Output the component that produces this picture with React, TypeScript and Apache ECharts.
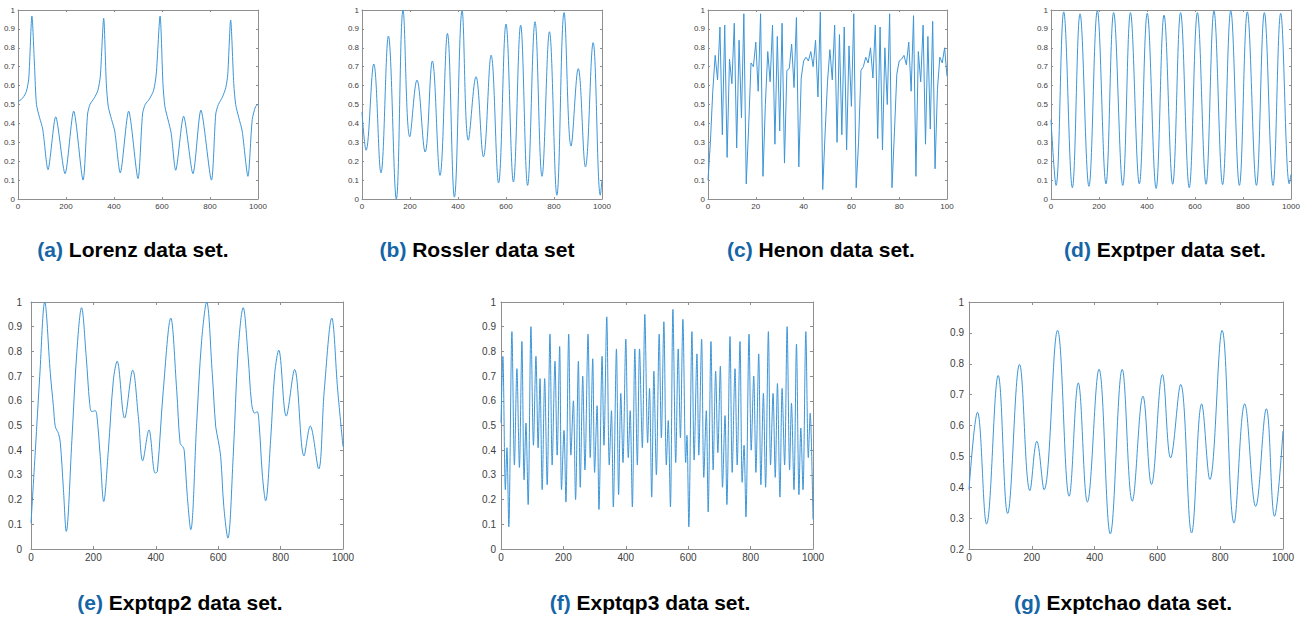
import React, { useEffect, useRef } from 'react';
import * as echarts from 'echarts';

// ---------- data (x = sample index, y = normalised value) ----------
const lorenzData: number[][] = [
  [0, 0.514], [20, 0.535], [35, 0.57], [45, 0.64], [58, 0.968], [69, 0.7], [77, 0.5], [90, 0.43], [103, 0.37],
  [125, 0.155], [157, 0.435], [196, 0.134], [232, 0.465], [271, 0.1], [290, 0.45], [300, 0.5], [318, 0.535],
  [333, 0.575], [343, 0.65], [357, 0.956], [368, 0.61], [376, 0.49], [390, 0.42], [403, 0.36], [426, 0.138],
  [461, 0.465], [500, 0.108], [519, 0.45], [530, 0.5], [548, 0.53], [565, 0.575], [576, 0.66], [592, 0.968],
  [604, 0.61], [612, 0.49], [625, 0.42], [638, 0.35], [657, 0.152], [690, 0.438], [729, 0.134], [762, 0.47],
  [806, 0.1], [824, 0.45], [835, 0.5], [852, 0.54], [866, 0.59], [874, 0.66], [886, 0.947], [899, 0.61],
  [907, 0.5], [920, 0.43], [934, 0.36], [958, 0.12], [976, 0.42], [990, 0.49], [1000, 0.5],
];

const rosslerData: number[][] = [
  [0, 0.46], [17, 0.258], [49, 0.714], [79, 0.138], [110, 0.862], [143, 0.0], [171, 1.0], [199, 0.329],
  [229, 0.629], [263, 0.249], [293, 0.73], [325, 0.125], [356, 0.876], [385, 0.01], [417, 0.996], [443, 0.311],
  [475, 0.647], [506, 0.223], [538, 0.761], [569, 0.085], [600, 0.926], [631, 0.09], [661, 0.92], [690, 0.072],
  [721, 0.938], [750, 0.12], [781, 0.885], [812, 0.02], [842, 0.986], [871, 0.28], [901, 0.69], [931, 0.17],
  [963, 0.827], [993, 0.02], [1000, 0.1],
];

const henonValues: number[] = [
  0.1, 0.3, 0.57, 0.76, 0.63, 0.91, 0.34, 0.92, 0.22, 0.74,
  0.61, 0.93, 0.27, 0.84, 0.43, 0.98, 0.08, 0.38, 0.72, 0.7,
  0.83, 0.57, 0.98, 0.12, 0.5, 0.78, 0.62, 0.92, 0.29, 0.86,
  0.36, 0.93, 0.19, 0.68, 0.69, 0.82, 0.59, 0.96, 0.17, 0.64,
  0.73, 0.75, 0.73, 0.78, 0.7, 0.84, 0.54, 0.99, 0.05, 0.35,
  0.62, 0.79, 0.63, 0.92, 0.3, 0.87, 0.34, 0.91, 0.26, 0.81,
  0.49, 0.98, 0.06, 0.3, 0.68, 0.7, 0.75, 0.72, 0.8, 0.64,
  0.92, 0.32, 0.91, 0.26, 0.8, 0.5, 0.98, 0.06, 0.35, 0.66,
  0.73, 0.74, 0.76, 0.71, 0.83, 0.57, 0.97, 0.12, 0.78, 0.62,
  0.92, 0.29, 0.86, 0.37, 0.94, 0.16, 0.58, 0.75, 0.72, 0.8,
  0.65,
];

const exptperData: number[][] = [
  [0, 0.42], [21, 0.072], [53, 0.99], [89, 0.06], [121, 0.98], [158, 0.067], [193, 0.996], [229, 0.08],
  [261, 0.986], [299, 0.072], [331, 0.986], [368, 0.08], [401, 0.982], [438, 0.056], [471, 0.973], [507, 0.078],
  [540, 0.986], [576, 0.06], [610, 0.986], [646, 0.078], [679, 0.995], [715, 0.076], [749, 0.996], [785, 0.072],
  [818, 0.99], [856, 0.072], [889, 0.986], [925, 0.072], [957, 0.982], [993, 0.08], [1000, 0.13],
];

const exptqp2Data: number[][] = [
  [0, 0.105], [14, 0.4], [28, 0.7], [44, 1.0], [62, 0.71], [72, 0.576], [78, 0.495], [88, 0.468], [94, 0.43],
  [104, 0.24], [113, 0.071], [131, 0.44], [147, 0.8], [162, 0.977], [177, 0.778], [188, 0.59], [195, 0.556],
  [206, 0.56], [211, 0.542], [222, 0.374], [233, 0.192], [248, 0.4], [264, 0.684], [276, 0.76], [300, 0.53],
  [326, 0.724], [344, 0.536], [358, 0.357], [378, 0.482], [398, 0.307], [405, 0.314], [424, 0.643], [448, 0.935],
  [467, 0.643], [478, 0.428], [486, 0.415], [491, 0.4], [501, 0.213], [512, 0.078], [531, 0.509], [547, 0.845],
  [563, 1.0], [581, 0.71], [592, 0.495], [600, 0.44], [608, 0.374], [618, 0.172], [631, 0.044], [648, 0.374],
  [664, 0.805], [680, 0.977], [696, 0.778], [707, 0.59], [717, 0.55], [725, 0.556], [731, 0.509], [742, 0.293],
  [752, 0.195], [768, 0.44], [781, 0.71], [794, 0.805], [818, 0.538], [845, 0.727], [875, 0.377], [895, 0.498],
  [922, 0.324], [940, 0.643], [964, 0.935], [983, 0.643], [1000, 0.415],
];

const exptqp3Data: number[][] = [
  [0, 0.51], [6, 0.78], [14, 0.24], [19, 0.41], [25, 0.09], [35, 0.88], [43, 0.34], [51, 0.73], [59, 0.33],
  [67, 0.84], [74, 0.28], [80, 0.51], [87, 0.18], [96, 0.9], [104, 0.42], [112, 0.78], [119, 0.41], [125, 0.69],
  [132, 0.24], [140, 0.69], [148, 0.26], [157, 0.87], [164, 0.34], [173, 0.76], [180, 0.38], [188, 0.82],
  [194, 0.24], [202, 0.48], [208, 0.19], [217, 0.87], [224, 0.38], [232, 0.6], [239, 0.2], [248, 0.76],
  [254, 0.25], [262, 0.7], [269, 0.32], [279, 0.87], [286, 0.37], [294, 0.77], [300, 0.31], [308, 0.58],
  [314, 0.16], [324, 0.78], [330, 0.42], [339, 0.94], [347, 0.34], [354, 0.56], [360, 0.17], [370, 0.81],
  [377, 0.22], [384, 0.63], [391, 0.35], [400, 0.85], [408, 0.37], [414, 0.56], [421, 0.17], [429, 0.81],
  [437, 0.34], [444, 0.81], [453, 0.41], [461, 0.95], [470, 0.43], [476, 0.65], [483, 0.21], [490, 0.72],
  [498, 0.3], [507, 0.87], [514, 0.45], [522, 0.92], [530, 0.34], [536, 0.52], [543, 0.17], [551, 0.97],
  [560, 0.35], [568, 0.81], [575, 0.45], [583, 0.93], [592, 0.35], [596, 0.46], [602, 0.09], [612, 0.88],
  [619, 0.36], [628, 0.79], [634, 0.38], [643, 0.85], [650, 0.29], [658, 0.56], [664, 0.15], [673, 0.84],
  [680, 0.32], [688, 0.72], [695, 0.39], [703, 0.74], [710, 0.25], [718, 0.54], [724, 0.18], [734, 0.86],
  [741, 0.31], [750, 0.73], [757, 0.34], [766, 0.84], [773, 0.27], [779, 0.42], [785, 0.13], [795, 0.87],
  [802, 0.4], [810, 0.7], [817, 0.31], [826, 0.79], [833, 0.26], [841, 0.63], [848, 0.25], [857, 0.88],
  [864, 0.34], [872, 0.63], [879, 0.29], [886, 0.67], [894, 0.21], [901, 0.65], [909, 0.34], [917, 0.9],
  [925, 0.32], [931, 0.59], [939, 0.24], [947, 0.83], [955, 0.22], [961, 0.49], [968, 0.24], [977, 0.88],
  [985, 0.37], [991, 0.55], [1000, 0.12],
];

const exptchaoData: number[][] = [
  [0, 0.392], [27, 0.643], [56, 0.281], [93, 0.762], [123, 0.315], [161, 0.798], [194, 0.389], [216, 0.549],
  [239, 0.392], [282, 0.908], [319, 0.371], [348, 0.738], [377, 0.352], [414, 0.782], [450, 0.249], [488, 0.782],
  [520, 0.355], [554, 0.695], [581, 0.409], [616, 0.765], [642, 0.495], [674, 0.733], [709, 0.252], [741, 0.67],
  [767, 0.425], [806, 0.908], [844, 0.284], [878, 0.67], [913, 0.338], [947, 0.654], [973, 0.306], [1000, 0.582],
];

const panelTags = ['(a)', '(b)', '(c)', '(d)', '(e)', '(f)', '(g)'];
const panelTitles = [
  'Lorenz data set.', 'Rossler data set', 'Henon data set.', 'Exptper data set.',
  'Exptqp2 data set.', 'Exptqp3 data set.', 'Exptchao data set.',
];
const xMaxes = [1000, 1000, 100, 1000, 1000, 1000, 1000];
const xSteps = [200, 200, 20, 200, 200, 200, 200];
const yMins = [0, 0, 0, 0, 0, 0, 0.2];

// ---------- layout / style ----------
const LINE = '#3d95d7';
const BOX = '#8f8f8f';
const LABEL = '#404040';
const TAG = '#1565a7';
const FONT = 'Liberation Sans, Arial, sans-serif';

const layouts = [
  { left: 18, top: 10, width: 240, height: 189, fs: 8, tick: 2, ym: 3, cx: 133, cy: 249 },
  { left: 362, top: 10, width: 240, height: 189, fs: 8, tick: 2, ym: 3, cx: 477, cy: 249 },
  { left: 708, top: 10, width: 239, height: 189, fs: 8, tick: 2, ym: 3, cx: 821, cy: 249 },
  { left: 1051, top: 10, width: 240, height: 189, fs: 8, tick: 2, ym: 3, cx: 1165, cy: 249 },
  { left: 31, top: 302, width: 312, height: 247, fs: 10, tick: 3, ym: 9, cx: 180, cy: 602 },
  { left: 501, top: 302, width: 312, height: 247, fs: 10, tick: 3, ym: 5, cx: 650, cy: 602 },
  { left: 969, top: 302, width: 314, height: 247, fs: 10, tick: 3, ym: 5, cx: 1123, cy: 602 },
];

function buildOption() {
  const henonData = henonValues.map((v, i) => [i, v]);
  const datasets = [lorenzData, rosslerData, henonData, exptperData, exptqp2Data, exptqp3Data, exptchaoData];
  const smooths: (number | boolean)[] = [0.25, 0.4, false, 0.4, 0.35, 0.3, 0.4];
  const grids: any[] = [];
  const xAxis: any[] = [];
  const yAxis: any[] = [];
  const series: any[] = [];
  const graphic: any[] = [];
  layouts.forEach((L, i) => {
    grids.push({ left: L.left, top: L.top, width: L.width, height: L.height, show: false });
    const axisLine = { show: true, onZero: false, lineStyle: { color: BOX, width: 1 } };
    const axisTick = { show: true, inside: true, length: L.tick, lineStyle: { color: BOX, width: 1 } };
    const label = { fontSize: L.fs, color: LABEL, fontFamily: FONT };
    const xBase = { gridIndex: i, type: 'value', min: 0, max: xMaxes[i], interval: xSteps[i], splitLine: { show: false }, axisLine, axisTick };
    const yBase = { gridIndex: i, type: 'value', min: yMins[i], max: 1, interval: 0.1, splitLine: { show: false }, axisLine, axisTick };
    xAxis.push({ ...xBase, position: 'bottom', axisLabel: { ...label, margin: 3, formatter: (v: number) => String(v) } });
    xAxis.push({ ...xBase, position: 'top', axisLabel: { show: false } });
    yAxis.push({
      ...yBase, position: 'left',
      axisLabel: { ...label, margin: L.ym, formatter: (v: number) => String(Math.round(v * 10) / 10) },
    });
    yAxis.push({ ...yBase, position: 'right', axisLabel: { show: false } });
    series.push({
      type: 'line', xAxisIndex: 2 * i, yAxisIndex: 2 * i, data: datasets[i], showSymbol: false,
      smooth: smooths[i], silent: true, lineStyle: { color: LINE, width: 1 },
    });
    graphic.push({
      type: 'text', x: L.cx, y: L.cy,
      style: {
        text: `{t|${panelTags[i]}} {n|${panelTitles[i]}}`,
        align: 'center', verticalAlign: 'middle',
        font: `bold 21px ${FONT}`,
        rich: {
          t: { fill: TAG, fontSize: 21, fontWeight: 'bold', fontFamily: FONT },
          n: { fill: '#000', fontSize: 21, fontWeight: 'bold', fontFamily: FONT },
        },
      },
    });
  });
  return { animation: false, backgroundColor: '#fff', grid: grids, xAxis, yAxis, series, graphic };
}

export default function App() {
  const ref = useRef<HTMLDivElement>(null);
  useEffect(() => {
    if (!ref.current) return;
    const chart = echarts.init(ref.current, undefined, { renderer: 'svg' });
    chart.setOption(buildOption() as any);
    return () => chart.dispose();
  }, []);
  return (
    <div
      ref={ref}
      style={{ position: 'absolute', left: 0, top: 0, width: 1308, height: 620, background: '#fff' }}
    />
  );
}
